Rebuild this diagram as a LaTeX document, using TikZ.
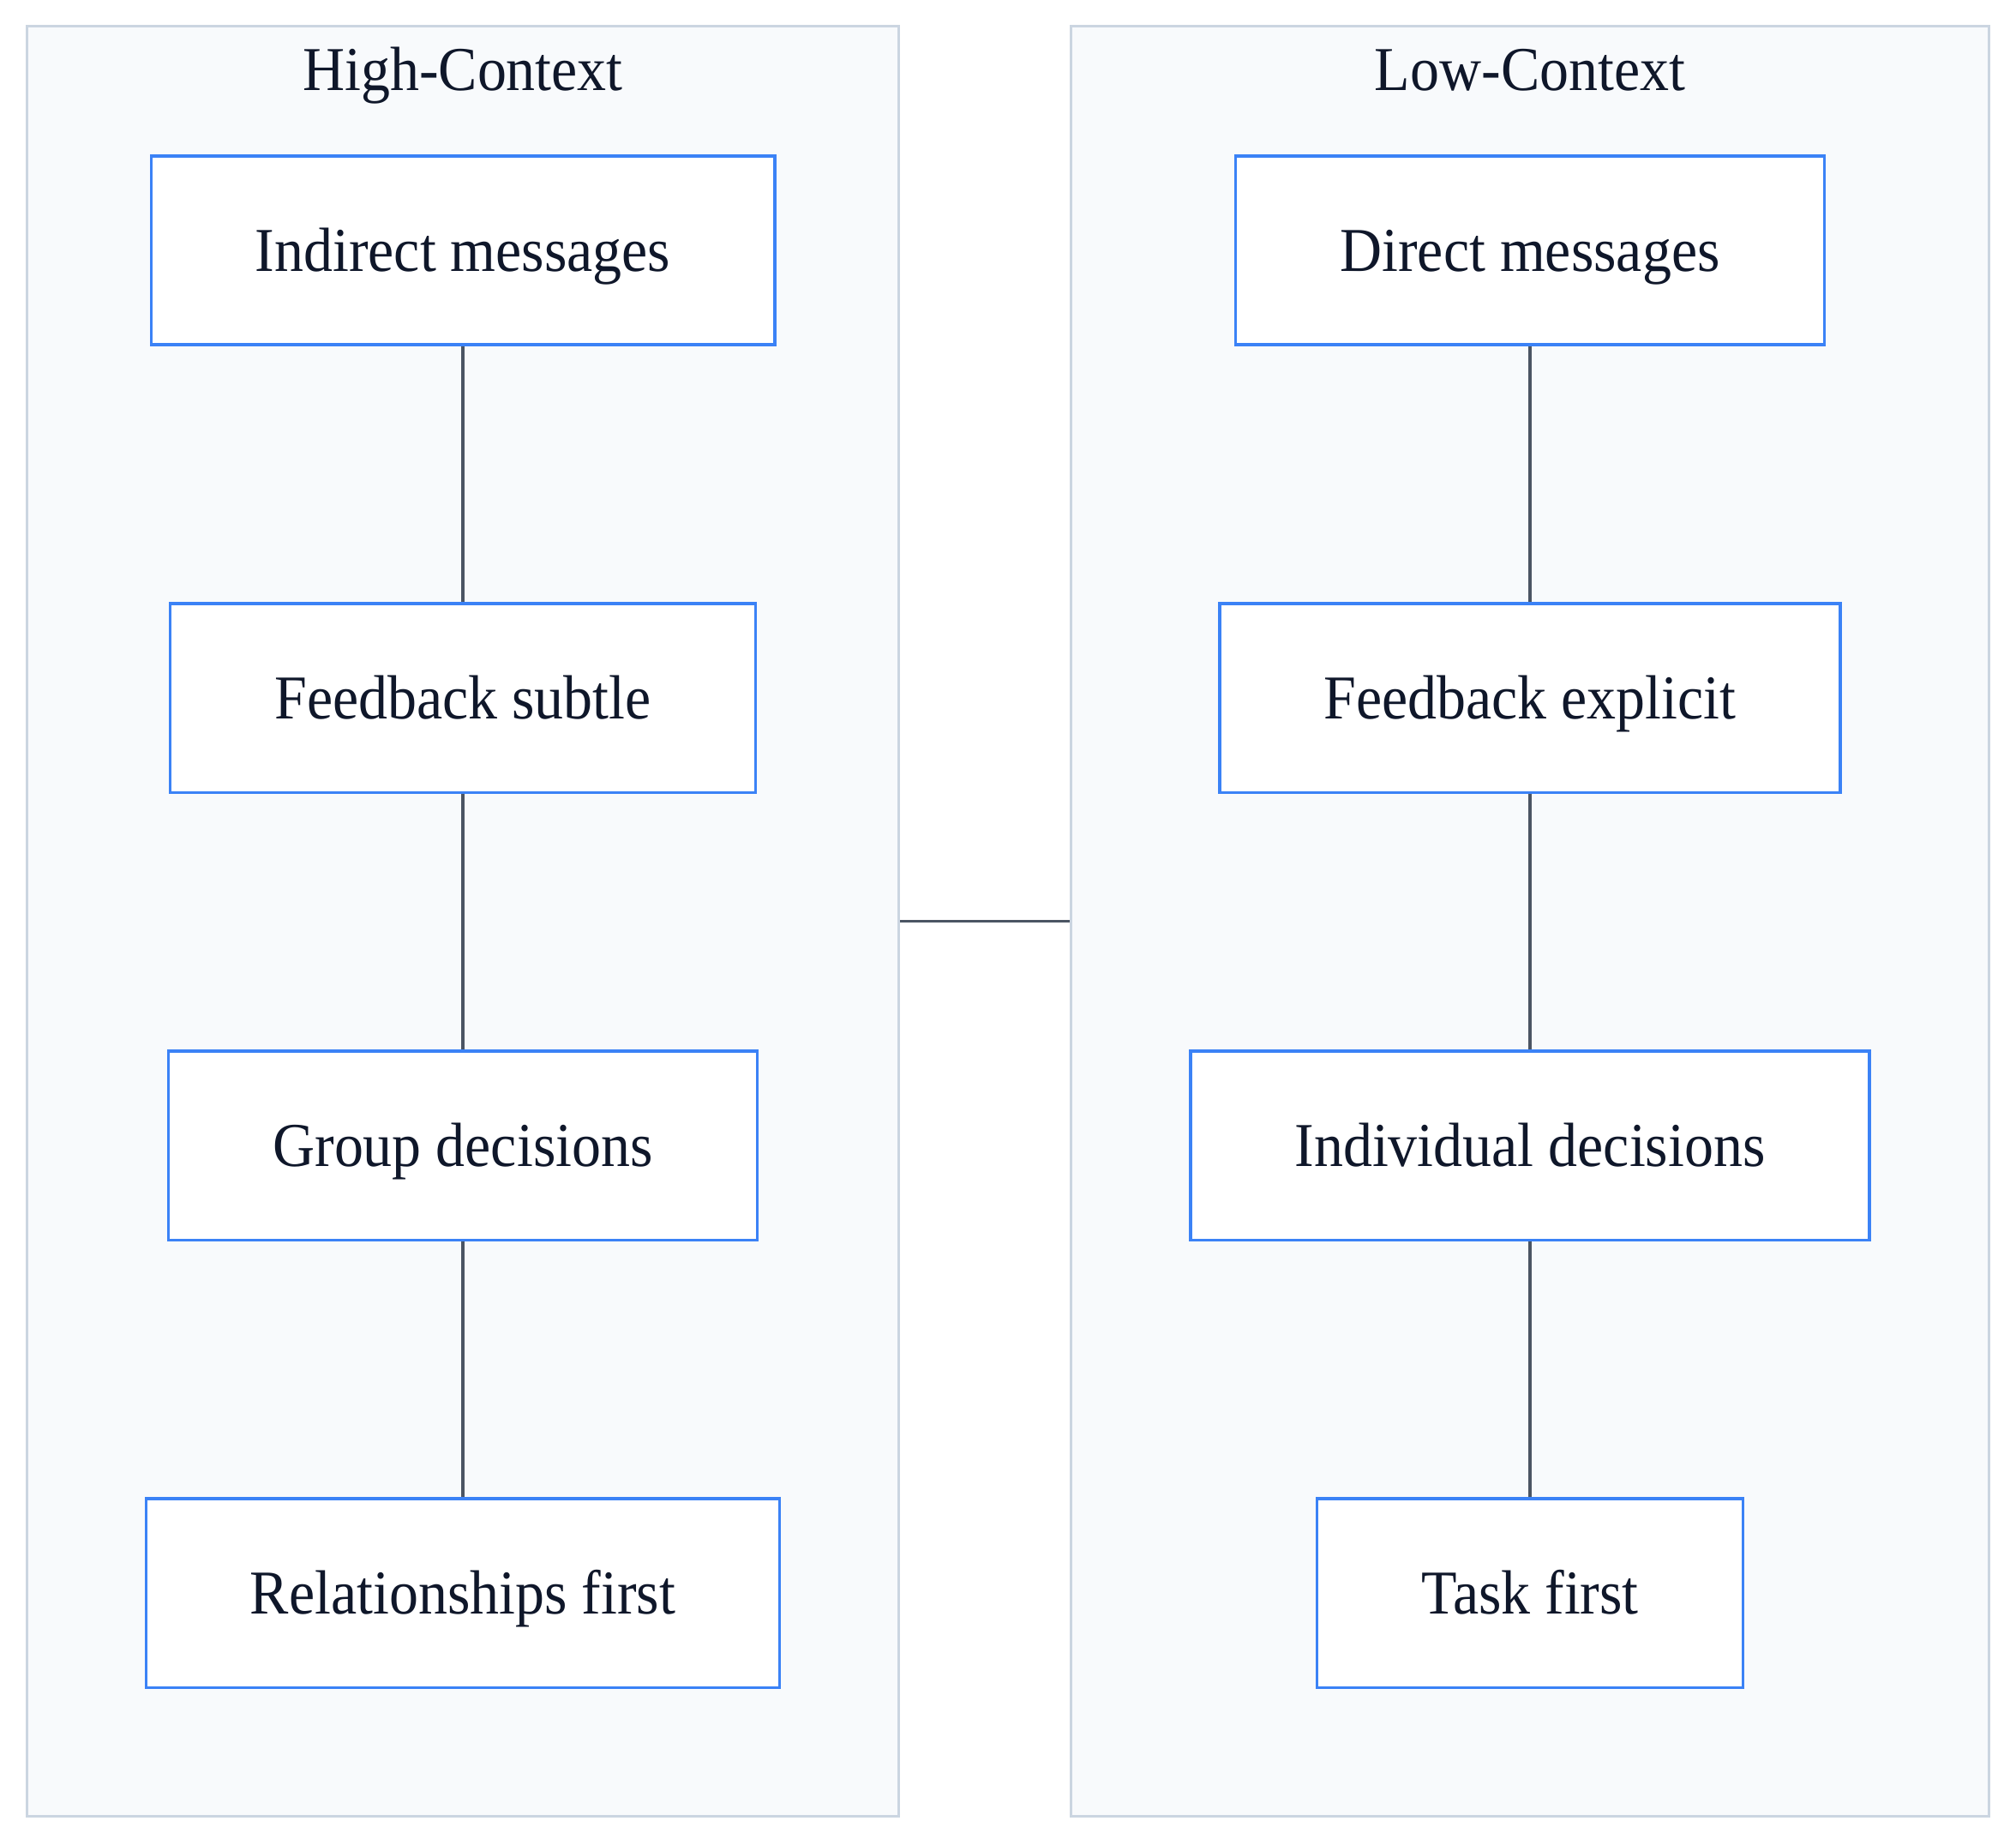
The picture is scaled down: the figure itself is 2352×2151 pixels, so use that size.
\documentclass[tikz,border=0pt]{standalone}
\usepackage{fontspec}
\setmainfont[FakeStretch=0.933]{Liberation Serif}
\definecolor{groupfill}{HTML}{F8FAFC}
\definecolor{groupline}{HTML}{CBD5E1}
\definecolor{boxline}{HTML}{3B82F6}
\definecolor{linkline}{HTML}{4B5563}
\definecolor{inktext}{HTML}{0F172A}
\tikzset{
  group/.style={draw=groupline, fill=groupfill, line width=0.9pt,
    minimum height=20.865cm, inner sep=0pt},
  grouptitle/.style={anchor=base, text=inktext},
  itembox/.style={draw=boxline, fill=white, line width=0.9pt,
    inner xsep=1.215cm, minimum height=2.2cm,
    text height=0.6cm, text depth=0.12cm, text=inktext},
  link/.style={draw=linkline, line width=0.9pt}
}

\begin{document}
\begin{tikzpicture}[x=0.01cm, y=-0.01cm, font=\fontsize{20.7}{25}\selectfont]
    \useasboundingbox (0,0) rectangle (2352,2151);

    % Containers
    \node[group, minimum width=10.17cm] (hc) at (540,1074.75) {};
    \node[group, minimum width=10.71cm] (lc) at (1785,1074.75) {};
    \node[grouptitle] (hctitle) at (540,105) {High-Context};
    \node[grouptitle] (lctitle) at (1785,105) {Low-Context};

    % High-context column
    \node[itembox] (im) at (540,292) {Indirect messages};
    \node[itembox] (fs) at (540,814) {Feedback subtle};
    \node[itembox] (gd) at (540,1336) {Group decisions};
    \node[itembox] (rf) at (540,1858) {Relationships first};

    % Low-context column
    \node[itembox] (dm) at (1785,292) {Direct messages};
    \node[itembox] (fe) at (1785,814) {Feedback explicit};
    \node[itembox] (id) at (1785,1336) {Individual decisions};
    \node[itembox] (tf) at (1785,1858) {Task first};

    % Links
    \draw[link] (im) -- (fs);
    \draw[link] (fs) -- (gd);
    \draw[link] (gd) -- (rf);
    \draw[link] (dm) -- (fe);
    \draw[link] (fe) -- (id);
    \draw[link] (id) -- (tf);
    \draw[link] (hc.east) -- (lc.west);
\end{tikzpicture}
\end{document}
